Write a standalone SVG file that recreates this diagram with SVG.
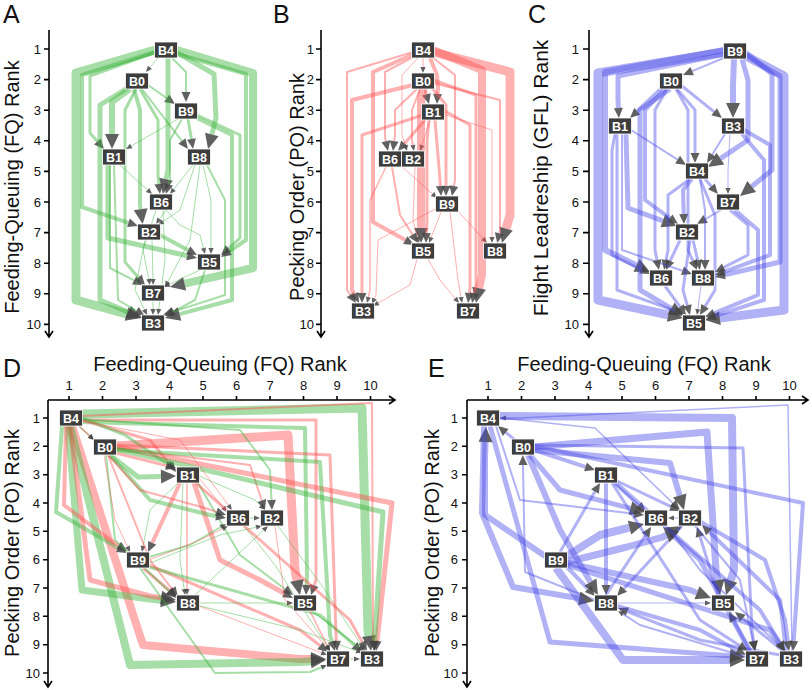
<svg xmlns="http://www.w3.org/2000/svg" width="812" height="690" viewBox="0 0 812 690">
<defs>
<style>
.g{fill:none;stroke:#3cb43c;stroke-opacity:.45;stroke-linejoin:round}
.r{fill:none;stroke:#ff5050;stroke-opacity:.45;stroke-linejoin:round}
.b{fill:none;stroke:#4646e6;stroke-opacity:.42;stroke-linejoin:round}
.w1{stroke-width:1}.w15{stroke-width:1.5}.w2{stroke-width:2}.w3{stroke-width:3}.w4{stroke-width:4}.w5{stroke-width:5}.w6{stroke-width:6}.w7{stroke-width:7}.w8{stroke-width:8}.w9{stroke-width:9}
.ms{marker-end:url(#s)}.mm{marker-end:url(#m)}.ml{marker-end:url(#l)}
.ax{fill:none;stroke:#000;stroke-width:1.6}
.tk{font-family:"Liberation Sans",Arial,sans-serif;font-size:13px;fill:#111}
.ttl{font-family:"Liberation Sans",Arial,sans-serif;font-size:20px;fill:#111;text-anchor:middle}
.lt{font-family:"Liberation Sans",Arial,sans-serif;font-size:25px;fill:#111}
.node rect{fill:#3d3d3d;stroke:#fff;stroke-width:.8}
.node text{fill:#fff;font-family:"Liberation Sans",Arial,sans-serif;font-size:12.5px;font-weight:bold;text-anchor:middle}
</style>
<marker id="s" markerUnits="userSpaceOnUse" orient="auto" overflow="visible" refX="0" refY="0" markerWidth="20" markerHeight="20"><path d="M0,-2.6L6,0L0,2.6z" fill="#444" fill-opacity=".85"/></marker>
<marker id="m" markerUnits="userSpaceOnUse" orient="auto" overflow="visible" refX="0" refY="0" markerWidth="20" markerHeight="20"><path d="M0,-4.5L10,0L0,4.5z" fill="#444" fill-opacity=".85"/></marker>
<marker id="l" markerUnits="userSpaceOnUse" orient="auto" overflow="visible" refX="0" refY="0" markerWidth="20" markerHeight="20"><path d="M0,-7L15,0L0,7z" fill="#444" fill-opacity=".85"/></marker>
</defs>
<rect width="812" height="690" fill="#fff"/>

<g id="axes">
<text class="lt" x="3" y="23">A</text>
<text class="lt" x="273" y="23">B</text>
<text class="lt" x="528" y="23">C</text>
<text class="lt" x="3" y="377">D</text>
<text class="lt" x="428" y="377">E</text>

<path class="ax" d="M49,30V337M45,331L49,337L53,331M44,49H49M44,79.6H49M44,110.2H49M44,140.8H49M44,171.4H49M44,202H49M44,232.6H49M44,263.2H49M44,293.8H49M44,324.4H49"/>
<g class="tk" text-anchor="end"><text x="41" y="53.5">1</text><text x="41" y="84.1">2</text><text x="41" y="114.7">3</text><text x="41" y="145.3">4</text><text x="41" y="175.9">5</text><text x="41" y="206.5">6</text><text x="41" y="237.1">7</text><text x="41" y="267.7">8</text><text x="41" y="298.3">9</text><text x="41" y="328.9">10</text></g>
<text class="ttl" transform="translate(19,187) rotate(-90)">Feeding-Queuing (FQ) Rank</text>

<path class="ax" d="M321,30V337M317,331L321,337L325,331M316,49H321M316,79.6H321M316,110.2H321M316,140.8H321M316,171.4H321M316,202H321M316,232.6H321M316,263.2H321M316,293.8H321M316,324.4H321"/>
<g class="tk" text-anchor="end"><text x="314" y="53.5">1</text><text x="314" y="84.1">2</text><text x="314" y="114.7">3</text><text x="314" y="145.3">4</text><text x="314" y="175.9">5</text><text x="314" y="206.5">6</text><text x="314" y="237.1">7</text><text x="314" y="267.7">8</text><text x="314" y="298.3">9</text><text x="314" y="328.9">10</text></g>
<text class="ttl" transform="translate(304,187) rotate(-90)">Pecking Order (PO) Rank</text>

<path class="ax" d="M589,30V337M585,331L589,337L593,331M583,49H589M583,79.6H589M583,110.2H589M583,140.8H589M583,171.4H589M583,202H589M583,232.6H589M583,263.2H589M583,293.8H589M583,324.4H589"/>
<g class="tk" text-anchor="end"><text x="579" y="53.5">1</text><text x="579" y="84.1">2</text><text x="579" y="114.7">3</text><text x="579" y="145.3">4</text><text x="579" y="175.9">5</text><text x="579" y="206.5">6</text><text x="579" y="237.1">7</text><text x="579" y="267.7">8</text><text x="579" y="298.3">9</text><text x="579" y="328.9">10</text></g>
<text class="ttl" style="font-size:21px" transform="translate(548,178) rotate(-90)">Flight Leadreship (GFL) Rank</text>

<path class="ax" d="M48,400H395M389,396L395,400L389,404M48,400V687M44,681L48,687L52,681M69,396V400M102.5,396V400M136,396V400M169.5,396V400M203,396V400M236.5,396V400M270,396V400M303.5,396V400M337,396V400M370.5,396V400M43,418H48M43,446.3H48M43,474.7H48M43,503H48M43,531.3H48M43,559.7H48M43,588H48M43,616.3H48M43,644.7H48M43,673H48"/>
<g class="tk" text-anchor="middle"><text x="69" y="390">1</text><text x="102.5" y="390">2</text><text x="136" y="390">3</text><text x="169.5" y="390">4</text><text x="203" y="390">5</text><text x="236.5" y="390">6</text><text x="270" y="390">7</text><text x="303.5" y="390">8</text><text x="337" y="390">9</text><text x="370.5" y="390">10</text></g>
<g class="tk" text-anchor="end"><text x="40" y="422.5">1</text><text x="40" y="450.8">2</text><text x="40" y="479.2">3</text><text x="40" y="507.5">4</text><text x="40" y="535.8">5</text><text x="40" y="564.2">6</text><text x="40" y="592.5">7</text><text x="40" y="620.8">8</text><text x="40" y="649.2">9</text><text x="40" y="677.5">10</text></g>
<text class="ttl" x="220" y="371">Feeding-Queuing (FQ) Rank</text>
<text class="ttl" transform="translate(19,543) rotate(-90)">Pecking Order (PO) Rank</text>

<path class="ax" d="M467,400H808M802,396L808,400L802,404M467,400V687M463,681L467,687L471,681M488,396V400M521.5,396V400M555,396V400M588.5,396V400M622,396V400M655.5,396V400M689,396V400M722.5,396V400M756,396V400M789.5,396V400M462,418H467M462,446.3H467M462,474.7H467M462,503H467M462,531.3H467M462,559.7H467M462,588H467M462,616.3H467M462,644.7H467M462,673H467"/>
<g class="tk" text-anchor="middle"><text x="488" y="390">1</text><text x="521.5" y="390">2</text><text x="555" y="390">3</text><text x="588.5" y="390">4</text><text x="622" y="390">5</text><text x="655.5" y="390">6</text><text x="689" y="390">7</text><text x="722.5" y="390">8</text><text x="756" y="390">9</text><text x="789.5" y="390">10</text></g>
<g class="tk" text-anchor="end"><text x="458" y="422.5">1</text><text x="458" y="450.8">2</text><text x="458" y="479.2">3</text><text x="458" y="507.5">4</text><text x="458" y="535.8">5</text><text x="458" y="564.2">6</text><text x="458" y="592.5">7</text><text x="458" y="620.8">8</text><text x="458" y="649.2">9</text><text x="458" y="677.5">10</text></g>
<text class="ttl" x="644" y="371">Feeding-Queuing (FQ) Rank</text>
<text class="ttl" transform="translate(439,543) rotate(-90)">Pecking Order (PO) Rank</text>
</g>

<g id="connectors">
<g id="edges-A">
<path class="g w1 ms" d="M158,58L149.9,67.4"/>
<path class="g w2 mm" d="M172,58L186,72L186,92"/>
<path class="g w9 ml" d="M155,50L76,73L76,300L126.5,314"/>
<path class="g w3 mm" d="M156,52L90,76L90,133L97.4,141.5"/>
<path class="g w6 ml" d="M130,89L112,102L112,134"/>
<path class="g w2 mm" d="M148,85L166.8,98.2"/>
<path class="g w1 ms" d="M178,119L131.2,146"/>
<path class="g w2 mm" d="M142,89L181.9,141.1"/>
<path class="g w3 mm" d="M188,119L191.4,139.1"/>
<path class="g w5 ml" d="M176,52L214,74L216,118L211.8,134.5"/>
<path class="g w5 ml" d="M168,58L168,170L166,179.3"/>
<path class="g w3 mm" d="M140,89L158,120L158,176L158.9,184.1"/>
<path class="g w2 mm" d="M182,119L170,140L170,180L168.7,184.4"/>
<path class="g w1 ms" d="M120,165L147.6,190"/>
<path class="g w1 ms" d="M193,165L173.7,189.3"/>
<path class="g w4 ml" d="M134,89L140,110L140,205L140.6,209.2"/>
<path class="g w4 mm" d="M155,52L82,75L82,207L128.5,222.8"/>
<path class="g w1 ms" d="M166,210L159.5,219.1"/>
<path class="g w1 ms" d="M195,165L180,210L163,221.6"/>
<path class="g w4 mm" d="M160,235L188.2,250.2"/>
<path class="g w5 mm" d="M108,165L108,238L187.2,255.8"/>
<path class="g w3 mm" d="M197,115L240,135L240,238L228.5,248.3"/>
<path class="g w1 ms" d="M203,165L211,200L211,248"/>
<path class="g w1 ms" d="M166,210L180,225L200,235L203.5,248.2"/>
<path class="g w8 ml" d="M177,50L253,73L253,268L184.6,283.7"/>
<path class="g w2 mm" d="M110,165L110,268L134.1,280.4"/>
<path class="g w3 mm" d="M136,89L125,110L125,262L138.4,277.5"/>
<path class="g w1 ms" d="M200,270L169.4,284.4"/>
<path class="g w1 ms" d="M152,240L153,279"/>
<path class="g w1 ms" d="M156,210L143,250L148.8,279.1"/>
<path class="g w1 ms" d="M153,301L153,309"/>
<path class="g w1 ms" d="M145,240L135,290L144.4,309.6"/>
<path class="g w2 mm" d="M205,270L195,300L173.8,311.3"/>
<path class="g w4 ml" d="M197,118L232,135L232,300L179.5,314.1"/>
<path class="g w2 mm" d="M207,165L225,200L225,295L172.5,311.9"/>
<path class="g w5 ml" d="M129,87L100,105L100,300L128.2,312.1"/>
<path class="g w2 mm" d="M114,165L118,300L136.4,310.9"/>
<path class="g w4 mm" d="M177,54L246,74L246,240L229.3,251.4"/>
<path class="g w1 ms" d="M163,210L165,260L158.8,309"/>
<path class="g w1 ms" d="M200,165L190,240L167.8,281.7"/>
</g>
<g id="edges-B">
<path class="r w1 ms" d="M423,58L423,67"/>
<path class="r w3 mm" d="M425,89L426.4,94.3"/>
<path class="r w4 mm" d="M430,58L437,75L438,88L437.6,94"/>
<path class="r w2 mm" d="M413,52L347,72L347,290L350.3,294.8"/>
<path class="r w4 mm" d="M413,85L352,100L352,290L354.3,294.2"/>
<path class="r w3 mm" d="M423,115L362,135L362,293"/>
<path class="r w15 ms" d="M386,167L370,200L370,290L368.4,297.1"/>
<path class="r w1 ms" d="M437,208L378,240L376,295L374.4,298.5"/>
<path class="r w1 ms" d="M417,259L410,285L378.2,303"/>
<path class="r w2 mm" d="M415,56L385,72L385,137L385.9,141.2"/>
<path class="r w2 mm" d="M417,89L395,110L395,135L394.2,141.1"/>
<path class="r w3 mm" d="M425,120L404.6,143.5"/>
<path class="r w1 ms" d="M418,58L402,75L402,135L405.2,145.3"/>
<path class="r w1 ms" d="M430,120L421.9,145.3"/>
<path class="r w2 ms" d="M420,89L412,110L412,140L412.9,145.1"/>
<path class="r w8 ml" d="M423,89L421,100L421,228"/>
<path class="r w4 mm" d="M414,54L373,72L373,222L405.3,240.1"/>
<path class="r w2 mm" d="M392,167L400,215L412.6,234.6"/>
<path class="r w3 mm" d="M429,120L427,140L427,220L426.4,233"/>
<path class="r w1 ms" d="M415,167L413,220L417.5,237.2"/>
<path class="r w1 ms" d="M441,212L431.2,237.4"/>
<path class="r w3 mm" d="M432,88L446,105L446,186"/>
<path class="r w3 mm" d="M435,120L440,180L440.4,186"/>
<path class="r w2 mm" d="M432,57L455,75L455,180L453.8,186.1"/>
<path class="r w1 ms" d="M399,164L432.5,194"/>
<path class="r w1 ms" d="M457,210L483,238.6"/>
<path class="r w9 ml" d="M433,52L510,72L510,215L506.1,228.6"/>
<path class="r w2 mm" d="M433,83L500,100L500,230L499.3,233.3"/>
<path class="r w1 ms" d="M443,114L492,130L492,237"/>
<path class="r w8 ml" d="M433,50L482,70L482,275L479.1,288.3"/>
<path class="r w3 mm" d="M433,80L476,95L476,285L474.2,293.2"/>
<path class="r w3 mm" d="M443,110L470,125L470,288L469.3,293.1"/>
<path class="r w1 ms" d="M450,212L458,280L461,297.1"/>
<path class="r w1 ms" d="M428,259L440,280L455.2,298.4"/>
</g>
<g id="edges-C">
<path class="b w9 ml" d="M724,52L598,73L598,300L668.3,314.9"/>
<path class="b w5 mm" d="M725,54L618,76L618,100L618.4,108"/>
<path class="b w2 mm" d="M726,57L692.2,71.1"/>
<path class="b w6 ml" d="M734,59L733,85L733,103"/>
<path class="b w6 ml" d="M724,50L605,72L605,250L636.5,265.4"/>
<path class="b w4 mm" d="M662,88L637.3,111.2"/>
<path class="b w3 mm" d="M682,86L714.2,111.8"/>
<path class="b w3 mm" d="M677,89L695,110L695,153"/>
<path class="b w2 mm" d="M631,130L677.6,159.6"/>
<path class="b w2 mm" d="M725,134L712.3,154.5"/>
<path class="b w5 ml" d="M742,59L748,80L748,140L720.4,158.6"/>
<path class="b w3 mm" d="M705,179L711.4,186.4"/>
<path class="b w1 ms" d="M730,134L728,170L728,188"/>
<path class="b w5 ml" d="M745,52L772,74L772,170L751.7,186.5"/>
<path class="b w4 mm" d="M692,179L683,190L683.7,214"/>
<path class="b w2 mm" d="M721,210L705.6,219"/>
<path class="b w5 ml" d="M626,134L628,208L662.9,220.8"/>
<path class="b w4 mm" d="M665,89L645,110L645,200L669.9,218.1"/>
<path class="b w3 mm" d="M680,240L670.2,260.9"/>
<path class="b w3 mm" d="M693,240L697.7,260.3"/>
<path class="b w3 mm" d="M690,179L668,195L668,250L666,260.2"/>
<path class="b w2 mm" d="M700,179L705,210L705,260"/>
<path class="b w3 mm" d="M730,210L748,225L748,255L723.9,267.4"/>
<path class="b w3 mm" d="M615,134L612,150L612,255L641.1,269.5"/>
<path class="b w2 mm" d="M622,134L622,250L682.5,270.8"/>
<path class="b w4 mm" d="M744,130L770,145L770,255L724.4,271.6"/>
<path class="b w5 mm" d="M745,55L780,76L780,262L724.7,274.8"/>
<path class="b w3 mm" d="M667,89L655,110L655,250L657,260.2"/>
<path class="b w3 mm" d="M676,89L688,110L688,250L692.9,260.9"/>
<path class="b w9 ml" d="M746,56L784,76L784,310L719.9,318.1"/>
<path class="b w5 ml" d="M670,89L640,110L640,290L671.1,308.4"/>
<path class="b w3 mm" d="M617,134L617,290L674.6,310.6"/>
<path class="b w3 mm" d="M665,286L680.1,306.9"/>
<path class="b w1 ms" d="M701,286L697.8,309.1"/>
<path class="b w3 mm" d="M690,240L683,290L687.3,305.4"/>
<path class="b w4 mm" d="M735,210L758,230L758,295L714.2,313.2"/>
<path class="b w4 mm" d="M742,134L764,160L764,300L715.5,315.9"/>
<path class="b w3 mm" d="M700,179L715,215L715,290L705.1,306.4"/>
</g>
<g id="edges-D">
<path class="g w9 ml" d="M82,414L362,408L368,630L368.9,636.1"/>
<path class="r w2 mm" d="M82,416L372,403L373,635L373.6,641"/>
<path class="r w3 mm" d="M82,420L316,420L316,580L314.2,585.5"/>
<path class="r w9 ml" d="M116,446L288,435L295,570L297,580.3"/>
<path class="g w4 mm" d="M82,422L305,428L307,575L306.5,585"/>
<path class="r w8 ml" d="M72,426L143,645L300,659L311,659"/>
<path class="g w8 ml" d="M70,426L130,665L300,662L311,661.2"/>
<path class="g w7 ml" d="M68,426L82,590L150,599L161.1,600.3"/>
<path class="r w5 ml" d="M70,426L90,580L150,596L161.2,597.7"/>
<path class="g w4 mm" d="M62,426L56,512L108,542L118.3,548"/>
<path class="r w4 mm" d="M66,426L64,505L110,540L118.6,545.6"/>
<path class="g w15 ms" d="M79,426L89.6,435.9"/>
<path class="r w15 ms" d="M79,426L89.6,435.9"/>
<path class="r w3 mm" d="M82,420L150,440L169.7,464.2"/>
<path class="g w3 mm" d="M82,418L125,435L167.8,464.3"/>
<path class="g w5 ml" d="M110,455L138,477L161,476.4"/>
<path class="r w3 mm" d="M112,452L166.3,465.6"/>
<path class="r w4 mm" d="M180,483L152.2,542.9"/>
<path class="g w1 ms" d="M178,483L150,510L143.1,546.1"/>
<path class="r w15 ms" d="M187,483L187,589"/>
<path class="g w1 ms" d="M183,483L180,560L184.2,589.1"/>
<path class="r w5 mm" d="M194,483L220,560L260,580L284.2,593.2"/>
<path class="g w2 mm" d="M198,483L240,555L285,589"/>
<path class="r w1 ms" d="M199,478L223.2,507.4"/>
<path class="g w1 ms" d="M199,476L255,500L260.7,505.7"/>
<path class="r w2 mm" d="M116,448L250,465L261.8,500.5"/>
<path class="g w4 mm" d="M110,455L150,500L210,515L216.2,516.2"/>
<path class="r w2 mm" d="M108,455L140,490L205,508L216.5,511.8"/>
<path class="g w1 ms" d="M250,518L254,518"/>
<path class="g w2 ms" d="M149,557L190,545L220.8,527"/>
<path class="r w1 ms" d="M149,560L200,540L222.6,528.7"/>
<path class="g w1 ms" d="M150,563L220,535L256.1,527.3"/>
<path class="r w3 mm" d="M143,568L169.4,590.5"/>
<path class="r w3 mm" d="M149,565L300,630L320.1,645.8"/>
<path class="g w3 mm" d="M149,567L320,615L354.5,645.4"/>
<path class="g w2 ms" d="M140,568L215,673L310,672L321.5,667.3"/>
<path class="r w1 ms" d="M199,606L321.4,652.8"/>
<path class="g w1 ms" d="M200,603L287,603"/>
<path class="g w1 ms" d="M200,606L300,630L356.4,650.9"/>
<path class="g w1 ms" d="M195,595L263.6,530.1"/>
<path class="r w15 ms" d="M310,611L327.3,645.6"/>
<path class="g w15 ms" d="M312,611L359.3,647.3"/>
<path class="g w1 ms" d="M350,659L354,659"/>
<path class="r w1 ms" d="M275,526L285,600L326,646.5"/>
<path class="g w1 ms" d="M278,526L325,590L361.7,646"/>
<path class="g w1 ms" d="M244,526L275,565L326.8,646"/>
<path class="r w3 mm" d="M196,483L260,540L350,620L362.2,642.2"/>
<path class="r w5 mm" d="M116,447L392,503L377.1,641.1"/>
<path class="g w5 mm" d="M116,449L383,512L374.6,641"/>
<path class="r w3 mm" d="M116,445L330,455L336,635L336.4,641"/>
<path class="g w4 mm" d="M116,450L320,462L330,635L332,641.5"/>
<path class="g w2 mm" d="M106,455L115,540L168.8,591.1"/>
<path class="r w2 mm" d="M108,455L150,560L172,589"/>
<path class="r w1 ms" d="M104,455L115,520L127.5,546.6"/>
<path class="g w2 mm" d="M82,419L240,430L270,470L271.5,500"/>
<path class="r w1 ms" d="M82,421L180,440L228.4,505.2"/>
</g>
<g id="edges-E">
<path class="b w15 ms" d="M792,651L788,405L520,418L506,418"/>
<path class="b w8 ml" d="M499,416L732,418L734,570L730.6,580.7"/>
<path class="b w7 ml" d="M534,447L707,432L716,570L717.6,580.2"/>
<path class="b w6 ml" d="M534,450L670,463L679.7,495.6"/>
<path class="b w4 mm" d="M534,450L585.5,466.9"/>
<path class="b w3 mm" d="M515,440L505.7,432.4"/>
<path class="b w6 ml" d="M545,556L485,515L485,460L485.5,442"/>
<path class="b w4 mm" d="M534,446L803,503L793.7,641"/>
<path class="b w3 mm" d="M534,445L743,448L752,630L753.6,641.1"/>
<path class="b w2 mm" d="M595,600L525,572L523,465"/>
<path class="b w8 ml" d="M567,556L600,535L629.5,527.6"/>
<path class="b w7 ml" d="M567,562L627,547L663,537L669.1,533.5"/>
<path class="b w3 mm" d="M560,552L595,491.6"/>
<path class="b w4 mm" d="M566,566L588,588.8"/>
<path class="b w4 mm" d="M606,483L606,585"/>
<path class="b w3 mm" d="M682,526L623.8,588.7"/>
<path class="b w6 ml" d="M567,563L690,590L697,592.7"/>
<path class="b w1 ms" d="M618,603L705,603"/>
<path class="b w6 ml" d="M484,426L482,513L513,587L579.2,598.4"/>
<path class="b w8 ml" d="M556,568L623,660L730,660"/>
<path class="b w5 ml" d="M490,426L550,642L720,655L730,655.8"/>
<path class="b w3 mm" d="M614,483L638.6,505.3"/>
<path class="b w3 mm" d="M617,481L671,506.7"/>
<path class="b w1 ms" d="M679,518L674,518"/>
<path class="b w2 mm" d="M496,426L520,500L634.1,513.8"/>
<path class="b w5 ml" d="M530,455L560,490L630.5,508.3"/>
<path class="b w3 mm" d="M718,595L700,536.5"/>
<path class="b w4 mm" d="M786,651L780,600L709.2,531.9"/>
<path class="b w5 ml" d="M750,651L700,560L674.2,537"/>
<path class="b w2 mm" d="M785,651L700,570L674,535"/>
<path class="b w3 mm" d="M606,595L645.5,535.3"/>
<path class="b w3 mm" d="M750,651L733.7,620.8"/>
<path class="b w3 mm" d="M783,651L742.8,618.3"/>
<path class="b w3 mm" d="M780,655L700,640L627.3,611.6"/>
<path class="b w2 ms" d="M746,657L640,625L623.1,614.2"/>
<path class="b w3 mm" d="M612,483L700,620L739.6,645.6"/>
<path class="b w4 mm" d="M616,483L760,610L779.8,642.5"/>
<path class="b w5 mm" d="M567,565L770,630L779.4,643.7"/>
<path class="b w4 mm" d="M617,606L700,630L737.2,650.2"/>
<path class="b w4 mm" d="M701,522L765,560L785,620L787.7,641.1"/>
<path class="b w2 mm" d="M695,526L740,580L752.9,641.2"/>
<path class="b w15 mm" d="M500,418L595,428L672.8,503.1"/>
<path class="b w6 ml" d="M528,455L560,530L590.4,582.1"/>
</g>
</g>

<g id="nodes-A">
<g id="A-B4" class="node" transform="translate(166,50)"><rect x="-11.5" y="-8" width="23" height="16"/><text y="4.5">B4</text></g>
<g id="A-B0" class="node" transform="translate(137,81)"><rect x="-11.5" y="-8" width="23" height="16"/><text y="4.5">B0</text></g>
<g id="A-B9" class="node" transform="translate(186,111)"><rect x="-11.5" y="-8" width="23" height="16"/><text y="4.5">B9</text></g>
<g id="A-B1" class="node" transform="translate(114,157)"><rect x="-11.5" y="-8" width="23" height="16"/><text y="4.5">B1</text></g>
<g id="A-B8" class="node" transform="translate(199,157)"><rect x="-11.5" y="-8" width="23" height="16"/><text y="4.5">B8</text></g>
<g id="A-B6" class="node" transform="translate(161,202)"><rect x="-11.5" y="-8" width="23" height="16"/><text y="4.5">B6</text></g>
<g id="A-B2" class="node" transform="translate(149,232)"><rect x="-11.5" y="-8" width="23" height="16"/><text y="4.5">B2</text></g>
<g id="A-B5" class="node" transform="translate(209,262)"><rect x="-11.5" y="-8" width="23" height="16"/><text y="4.5">B5</text></g>
<g id="A-B7" class="node" transform="translate(153,293)"><rect x="-11.5" y="-8" width="23" height="16"/><text y="4.5">B7</text></g>
<g id="A-B3" class="node" transform="translate(153,323)"><rect x="-11.5" y="-8" width="23" height="16"/><text y="4.5">B3</text></g>
</g>
<g id="nodes-B">
<g id="B-B4" class="node" transform="translate(423,50)"><rect x="-11.5" y="-8" width="23" height="16"/><text y="4.5">B4</text></g>
<g id="B-B0" class="node" transform="translate(423,81)"><rect x="-11.5" y="-8" width="23" height="16"/><text y="4.5">B0</text></g>
<g id="B-B1" class="node" transform="translate(433,112)"><rect x="-11.5" y="-8" width="23" height="16"/><text y="4.5">B1</text></g>
<g id="B-B6" class="node" transform="translate(390,159)"><rect x="-11.5" y="-8" width="23" height="16"/><text y="4.5">B6</text></g>
<g id="B-B2" class="node" transform="translate(413,159)"><rect x="-11.5" y="-8" width="23" height="16"/><text y="4.5">B2</text></g>
<g id="B-B9" class="node" transform="translate(447,204)"><rect x="-11.5" y="-8" width="23" height="16"/><text y="4.5">B9</text></g>
<g id="B-B5" class="node" transform="translate(423,251)"><rect x="-11.5" y="-8" width="23" height="16"/><text y="4.5">B5</text></g>
<g id="B-B8" class="node" transform="translate(495,251)"><rect x="-11.5" y="-8" width="23" height="16"/><text y="4.5">B8</text></g>
<g id="B-B3" class="node" transform="translate(363,311)"><rect x="-11.5" y="-8" width="23" height="16"/><text y="4.5">B3</text></g>
<g id="B-B7" class="node" transform="translate(468,311)"><rect x="-11.5" y="-8" width="23" height="16"/><text y="4.5">B7</text></g>
</g>
<g id="nodes-C">
<g id="C-B9" class="node" transform="translate(735,51)"><rect x="-11.5" y="-8" width="23" height="16"/><text y="4.5">B9</text></g>
<g id="C-B0" class="node" transform="translate(671,81)"><rect x="-11.5" y="-8" width="23" height="16"/><text y="4.5">B0</text></g>
<g id="C-B1" class="node" transform="translate(620,126)"><rect x="-11.5" y="-8" width="23" height="16"/><text y="4.5">B1</text></g>
<g id="C-B3" class="node" transform="translate(733,126)"><rect x="-11.5" y="-8" width="23" height="16"/><text y="4.5">B3</text></g>
<g id="C-B4" class="node" transform="translate(697,171)"><rect x="-11.5" y="-8" width="23" height="16"/><text y="4.5">B4</text></g>
<g id="C-B7" class="node" transform="translate(728,202)"><rect x="-11.5" y="-8" width="23" height="16"/><text y="4.5">B7</text></g>
<g id="C-B2" class="node" transform="translate(687,232)"><rect x="-11.5" y="-8" width="23" height="16"/><text y="4.5">B2</text></g>
<g id="C-B6" class="node" transform="translate(661,278)"><rect x="-11.5" y="-8" width="23" height="16"/><text y="4.5">B6</text></g>
<g id="C-B8" class="node" transform="translate(703,278)"><rect x="-11.5" y="-8" width="23" height="16"/><text y="4.5">B8</text></g>
<g id="C-B5" class="node" transform="translate(694,323)"><rect x="-11.5" y="-8" width="23" height="16"/><text y="4.5">B5</text></g>
</g>
<g id="nodes-D">
<g id="D-B4" class="node" transform="translate(71,418)"><rect x="-11.5" y="-8" width="23" height="16"/><text y="4.5">B4</text></g>
<g id="D-B0" class="node" transform="translate(105,447)"><rect x="-11.5" y="-8" width="23" height="16"/><text y="4.5">B0</text></g>
<g id="D-B1" class="node" transform="translate(188,475)"><rect x="-11.5" y="-8" width="23" height="16"/><text y="4.5">B1</text></g>
<g id="D-B6" class="node" transform="translate(238,518)"><rect x="-11.5" y="-8" width="23" height="16"/><text y="4.5">B6</text></g>
<g id="D-B2" class="node" transform="translate(272,518)"><rect x="-11.5" y="-8" width="23" height="16"/><text y="4.5">B2</text></g>
<g id="D-B9" class="node" transform="translate(138,560)"><rect x="-11.5" y="-8" width="23" height="16"/><text y="4.5">B9</text></g>
<g id="D-B8" class="node" transform="translate(188,603)"><rect x="-11.5" y="-8" width="23" height="16"/><text y="4.5">B8</text></g>
<g id="D-B5" class="node" transform="translate(305,603)"><rect x="-11.5" y="-8" width="23" height="16"/><text y="4.5">B5</text></g>
<g id="D-B7" class="node" transform="translate(338,659)"><rect x="-11.5" y="-8" width="23" height="16"/><text y="4.5">B7</text></g>
<g id="D-B3" class="node" transform="translate(372,659)"><rect x="-11.5" y="-8" width="23" height="16"/><text y="4.5">B3</text></g>
</g>
<g id="nodes-E">
<g id="E-B4" class="node" transform="translate(488,418)"><rect x="-11.5" y="-8" width="23" height="16"/><text y="4.5">B4</text></g>
<g id="E-B0" class="node" transform="translate(523,447)"><rect x="-11.5" y="-8" width="23" height="16"/><text y="4.5">B0</text></g>
<g id="E-B1" class="node" transform="translate(606,475)"><rect x="-11.5" y="-8" width="23" height="16"/><text y="4.5">B1</text></g>
<g id="E-B6" class="node" transform="translate(656,518)"><rect x="-11.5" y="-8" width="23" height="16"/><text y="4.5">B6</text></g>
<g id="E-B2" class="node" transform="translate(690,518)"><rect x="-11.5" y="-8" width="23" height="16"/><text y="4.5">B2</text></g>
<g id="E-B9" class="node" transform="translate(556,560)"><rect x="-11.5" y="-8" width="23" height="16"/><text y="4.5">B9</text></g>
<g id="E-B8" class="node" transform="translate(606,603)"><rect x="-11.5" y="-8" width="23" height="16"/><text y="4.5">B8</text></g>
<g id="E-B5" class="node" transform="translate(723,603)"><rect x="-11.5" y="-8" width="23" height="16"/><text y="4.5">B5</text></g>
<g id="E-B7" class="node" transform="translate(757,659)"><rect x="-11.5" y="-8" width="23" height="16"/><text y="4.5">B7</text></g>
<g id="E-B3" class="node" transform="translate(791,659)"><rect x="-11.5" y="-8" width="23" height="16"/><text y="4.5">B3</text></g>
</g>
</svg>
